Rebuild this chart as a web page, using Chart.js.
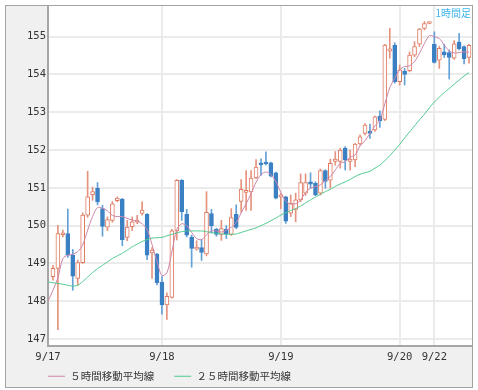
<!DOCTYPE html>
<html><head><meta charset="utf-8">
<script src="https://cdn.jsdelivr.net/npm/chart.js@4"></script>
<style>
html,body{margin:0;padding:0;background:#fff;}
#frame{position:absolute;left:5px;top:5px;width:466px;height:381px;border:1px solid #a3a3a3;background:#f0f0f0;}
#c{position:absolute;left:0;top:0;}
#ttl{position:absolute;right:7px;top:6px;font-size:10px;font-family:"Noto Sans CJK JP";color:#3db5ec;line-height:14px;}
</style></head><body>
<div id="frame"><canvas id="c" width="466" height="381"></canvas></div>
<div id="ttl">1時間足</div>
<script>
const categories = [
 '9/17 01:00','9/17 02:00','9/17 03:00','9/17 04:00','9/17 05:00','9/17 06:00','9/17 07:00','9/17 08:00','9/17 09:00','9/17 10:00','9/17 11:00','9/17 12:00',
 '9/17 13:00','9/17 14:00','9/17 15:00','9/17 16:00','9/17 17:00','9/17 18:00','9/17 19:00','9/17 20:00','9/17 21:00','9/17 22:00','9/17 23:00',
 '9/18 00:00','9/18 01:00','9/18 02:00','9/18 03:00','9/18 04:00','9/18 05:00','9/18 06:00','9/18 07:00','9/18 08:00','9/18 09:00','9/18 10:00','9/18 11:00',
 '9/18 12:00','9/18 13:00','9/18 14:00','9/18 15:00','9/18 16:00','9/18 17:00','9/18 18:00','9/18 19:00','9/18 20:00','9/18 21:00','9/18 22:00','9/18 23:00',
 '9/19 00:00','9/19 01:00','9/19 02:00','9/19 03:00','9/19 04:00','9/19 05:00','9/19 06:00','9/19 07:00','9/19 08:00','9/19 09:00','9/19 10:00','9/19 11:00',
 '9/19 12:00','9/19 13:00','9/19 14:00','9/19 15:00','9/19 16:00','9/19 17:00','9/19 18:00','9/19 19:00','9/19 20:00','9/19 21:00','9/19 22:00','9/19 23:00',
 '9/20 00:00','9/20 01:00','9/20 02:00','9/20 03:00','9/20 04:00','9/20 05:00','9/20 06:00',
 '9/22 07:00','9/22 08:00','9/22 09:00','9/22 10:00','9/22 11:00','9/22 12:00','9/22 13:00','9/22 14:00'
];
const dayLabels = ['9/17','9/18','9/19','9/20','9/22'];
const yTicks = [147,148,149,150,151,152,153,154,155];
const seriesNames = ['５時間移動平均線','２５時間移動平均線'];

const open = [null,148.65,148.87,149.76,149.79,149.22,148.60,149.02,150.28,150.82,
150.99,150.45,149.96,150.14,150.66,150.70,149.69,149.97,150.09,150.32,
150.30,149.28,149.25,148.50,147.90,148.10,149.86,151.20,150.30,149.70,
149.38,149.42,149.25,150.32,149.90,149.77,149.90,149.77,150.30,150.64,
150.88,150.89,151.26,151.64,151.66,151.66,151.40,150.76,150.76,150.33,
150.43,150.68,150.86,151.16,151.12,150.86,151.46,151.20,151.70,151.70,
152.05,151.70,151.74,152.16,152.44,152.49,152.53,152.90,152.81,154.62,
154.78,153.81,154.09,154.10,154.51,154.80,155.22,155.35,154.80,154.38,
154.60,154.58,154.43,154.86,154.74,154.45];
const high = [null,148.95,150.01,149.88,150.44,149.37,149.09,150.34,151.44,151.02,
151.14,150.54,150.23,150.64,150.76,150.72,150.14,150.23,150.27,150.63,
150.32,149.42,149.27,148.65,148.22,149.90,151.22,151.22,150.43,149.75,
149.60,149.64,150.90,150.43,149.93,150.14,150.00,150.45,150.55,151.22,
151.46,151.46,151.75,151.77,151.95,151.68,151.42,150.85,150.78,150.81,
150.86,151.37,151.37,151.40,151.16,151.50,151.48,151.76,151.96,152.05,
152.09,152.00,152.18,152.40,152.70,152.69,152.90,153.04,154.80,155.22,
154.84,154.25,154.16,154.60,154.87,155.22,155.40,155.37,155.13,154.75,
154.80,154.65,154.90,155.09,154.76,154.80];
const low = [null,148.56,147.25,149.70,149.16,148.29,148.43,149.00,150.22,150.67,
150.55,149.72,149.87,150.09,150.63,149.47,149.60,149.87,150.05,150.28,
149.10,148.60,148.43,147.66,147.52,148.08,149.62,150.14,149.70,148.90,
149.35,149.08,149.20,149.80,149.72,149.61,149.66,149.74,149.92,150.35,
150.40,150.40,151.24,151.33,151.61,151.29,150.71,150.45,150.06,150.24,
150.10,150.63,150.80,150.99,150.79,150.81,150.99,150.99,151.60,151.52,
151.47,151.47,151.56,152.13,152.40,152.31,152.49,152.60,152.78,154.43,
153.77,153.72,153.72,154.07,154.47,154.74,155.18,155.34,154.30,154.16,
154.45,153.88,154.40,154.65,154.28,154.30];
const close = [null,148.87,149.79,149.80,149.22,148.66,149.02,150.28,150.76,150.90,
150.63,149.98,150.16,150.58,150.73,149.63,149.96,150.10,150.15,150.41,
149.22,149.35,148.49,147.90,148.13,149.86,151.20,150.37,149.75,149.40,
149.43,149.29,150.35,150.00,149.77,149.92,149.78,150.21,149.95,150.96,
150.93,151.26,151.55,151.61,151.63,151.31,150.73,150.79,150.12,150.59,
150.68,151.14,151.14,151.10,150.81,151.46,151.17,151.65,151.76,152.00,
151.74,151.76,152.16,152.35,152.66,152.44,152.88,152.78,154.78,154.68,
153.81,154.12,154.00,154.51,154.74,155.20,155.35,155.36,154.32,154.69,
154.52,154.45,154.81,154.68,154.42,154.77];
const ma5 = [148.00,148.29,148.62,149.13,149.22,149.24,149.31,149.49,149.88,150.24,
150.48,150.46,150.39,150.27,150.24,150.24,150.19,150.15,150.12,150.05,
149.90,149.50,149.05,148.68,148.75,149.30,149.90,150.05,150.00,149.82,
149.66,149.63,149.76,149.86,149.86,149.83,149.88,149.96,150.08,150.34,
150.58,150.85,151.15,151.35,151.42,151.35,151.17,150.88,150.65,150.57,
150.58,150.68,150.88,150.99,151.03,151.08,151.19,151.30,151.47,151.65,
151.69,151.81,151.87,152.11,152.25,152.44,152.64,152.80,153.22,153.65,
153.90,154.12,154.21,154.23,154.34,154.56,154.82,155.03,155.00,154.95,
154.78,154.62,154.57,154.58,154.60,154.59];
const ma25 = [148.51,148.49,148.47,148.45,148.42,148.40,148.42,148.52,148.64,148.76,
148.86,148.95,149.04,149.13,149.20,149.27,149.35,149.44,149.51,149.58,
149.63,149.67,149.68,149.69,149.73,149.77,149.81,149.84,149.86,149.86,
149.86,149.86,149.84,149.82,149.80,149.78,149.77,149.77,149.78,149.82,
149.86,149.90,149.94,150.00,150.06,150.13,150.20,150.28,150.34,150.40,
150.45,150.52,150.60,150.68,150.76,150.83,150.90,150.96,151.04,151.10,
151.16,151.22,151.30,151.36,151.40,151.44,151.52,151.60,151.72,151.85,
152.00,152.15,152.32,152.48,152.64,152.80,152.95,153.12,153.27,153.40,
153.52,153.63,153.74,153.85,153.96,154.05];

// day boundaries from the categories
const dayStart = [];
categories.forEach((c, i) => {
  const d = c.split(' ')[0];
  if (i === 0 || d !== categories[i - 1].split(' ')[0]) dayStart.push(i);
});

const UP = '#e07a62', UPWICK = '#e6937e', DOWN = '#3b80c3', DOWNWICK = '#63a0d6';
const MA5C = '#cf86aa', MA25C = '#4cc98e';
const idx = categories.map((_, i) => i).filter(i => open[i] !== null);
const isUp = i => close[i] >= open[i];

const wickData = idx.map(i => ({x: i, y: [low[i], high[i]]}));
const bodyData = idx.map(i => ({x: i, y: [open[i], close[i]]}));

const bg = {
  id: 'bg',
  beforeDraw(chart) {
    const {ctx, chartArea: a} = chart;
    ctx.save();
    ctx.fillStyle = '#ffffff';
    ctx.fillRect(a.left, a.top, a.right - a.left, a.bottom - a.top);
    ctx.restore();
  }
};

const tickFont = {family: '"DejaVu Sans Mono"', size: 10.5};
const noClip = () => null;

new Chart(document.getElementById('c'), {
  type: 'bar',
  data: {
    datasets: [
      {type: 'bar', data: wickData, grouped: false, barThickness: 1, order: 3,
       backgroundColor: idx.map(i => isUp(i) ? UPWICK : DOWNWICK), borderWidth: 0},
      {type: 'bar', data: bodyData, grouped: false, barThickness: 4, order: 2, minBarLength: 2,
       backgroundColor: idx.map(i => isUp(i) ? '#ffffff' : DOWN),
       borderColor: idx.map(i => isUp(i) ? UP : DOWN), borderWidth: 1, borderSkipped: false},
      {type: 'line', label: seriesNames[0], data: ma5.map((v, i) => ({x: i, y: v})), order: 1,
       borderColor: MA5C, backgroundColor: MA5C, borderWidth: 1, pointRadius: 0, tension: 0.3},
      {type: 'line', label: seriesNames[1], data: ma25.map((v, i) => ({x: i, y: v})), order: 0,
       borderColor: MA25C, backgroundColor: MA25C, borderWidth: 1, pointRadius: 0, tension: 0.2}
    ]
  },
  options: {
    responsive: false,
    devicePixelRatio: 1,
    animation: false,
    events: [],
    layout: {padding: {left: 22, right: 0, top: 0, bottom: -4.5}},
    scales: {
      x: {
        type: 'linear', min: 0, max: 85.6, offset: false,
        afterBuildTicks: s => { s.ticks = dayStart.map(v => ({value: v})); },
        afterFit: s => { s.height = 5; s._computeLabelArea = noClip; },
        ticks: {autoSkip: false, maxRotation: 0, padding: 5, color: '#333', font: tickFont,
                callback: (v, i) => dayLabels[i]},
        grid: {color: '#ebebeb', lineWidth: 2, drawTicks: false, offset: false},
        border: {display: true, color: '#a6a6a6', width: 2}
      },
      y: {
        min: 146.815, max: 155.812,
        afterBuildTicks: s => { s.ticks = yTicks.map(v => ({value: v})); },
        afterFit: s => { s.width = 20; s.paddingTop = 0; s.paddingBottom = 0; s._computeLabelArea = noClip; },
        ticks: {padding: 2, color: '#333', font: tickFont, callback: v => String(v)},
        grid: {color: '#ebebeb', lineWidth: 2, drawTicks: false},
        border: {display: true, color: '#a6a6a6', width: 2}
      }
    },
    plugins: {
      tooltip: {enabled: false},
      title: {display: false},
      legend: {
        position: 'bottom', align: 'start', fullSize: true,
        labels: {
          usePointStyle: true, pointStyle: 'line', pointStyleWidth: 17, padding: 20,
          color: '#333', font: {family: '"Noto Sans CJK JP"', size: 10.5},
          filter: item => item.datasetIndex >= 2,
          sort: (a, b) => a.datasetIndex - b.datasetIndex
        }
      }
    }
  },
  plugins: [bg]
});
</script>
</body></html>
